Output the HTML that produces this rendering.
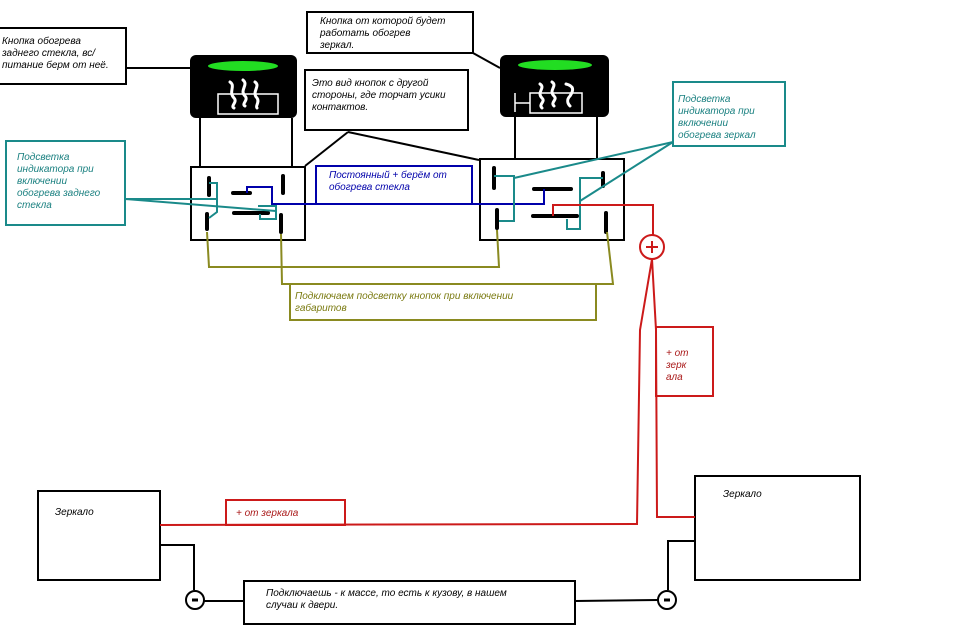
<!DOCTYPE html>
<html><head><meta charset="utf-8"><style>
html,body{margin:0;padding:0;background:#fff}
svg{display:block}
text{font-family:"Liberation Sans",sans-serif;font-style:italic;font-size:10px}
</style></head><body>
<svg width="960" height="638" viewBox="0 0 960 638" xmlns="http://www.w3.org/2000/svg">
<rect width="960" height="638" fill="#fff"/>
<g fill="none" stroke="#000" stroke-width="2">
<!-- callout 1 -->
<rect x="-2" y="28" width="128" height="56"/>
<line x1="126" y1="68" x2="190" y2="68"/>
<!-- callout 2 -->
<rect x="307" y="12" width="166" height="41"/>
<line x1="473" y1="53" x2="500" y2="68"/>
<!-- callout 3 -->
<rect x="305" y="70" width="163" height="60"/>
<line x1="348" y1="132" x2="305" y2="166"/>
<line x1="348" y1="132" x2="479" y2="160"/>
<!-- legs -->
<line x1="200" y1="118" x2="200" y2="166"/>
<line x1="292" y1="118" x2="292" y2="166"/>
<line x1="515" y1="117" x2="515" y2="159"/>
<line x1="597" y1="117" x2="597" y2="159"/>
<!-- switch boxes -->
<rect x="191" y="167" width="114" height="73"/>
<rect x="480" y="159" width="144" height="81"/>
<!-- mirrors -->
<rect x="38" y="491" width="122" height="89"/>
<rect x="695" y="476" width="165" height="104"/>
<rect x="244" y="581" width="331" height="43"/>
<!-- ground -->
<polyline points="160,545 194,545 194,590"/>
<line x1="204" y1="601" x2="244" y2="601"/>
<line x1="575" y1="601" x2="658" y2="600"/>
<polyline points="695,541 668,541 668,590"/>
<circle cx="195" cy="600" r="9"/>
<circle cx="667" cy="600" r="9"/>
</g>
<g stroke="#000" stroke-width="3">
<line x1="192" y1="600" x2="198" y2="600"/>
<line x1="664" y1="600" x2="670" y2="600"/>
</g>
<!-- buttons -->
<rect x="190" y="55" width="107" height="63" rx="6" fill="#000"/>
<ellipse cx="243" cy="66" rx="35" ry="5" fill="#22dd22"/>
<rect x="218" y="94" width="60" height="20" fill="none" stroke="#fff" stroke-width="1.5"/>
<g fill="none" stroke="#fff" stroke-width="3" stroke-linecap="round">
<path d="M230,82 c6,4 -2,10 4,16 c4,4 -4,8 0,10"/>
<path d="M243,80 c6,5 -4,10 2,16 c4,4 -4,8 0,10"/>
<path d="M255,82 c6,4 -4,10 2,16 c3,4 -2,8 0,10"/>
</g>
<rect x="500" y="55" width="109" height="62" rx="6" fill="#000"/>
<ellipse cx="555" cy="65" rx="37" ry="5" fill="#22dd22"/>
<rect x="530" y="93" width="52" height="20" fill="none" stroke="#fff" stroke-width="1.5"/>
<line x1="515" y1="103" x2="530" y2="103" stroke="#fff" stroke-width="1.5"/>
<line x1="515" y1="93" x2="515" y2="112" stroke="#fff" stroke-width="1.5"/>
<g fill="none" stroke="#fff" stroke-width="3" stroke-linecap="round">
<path d="M540,84 c6,4 -4,8 2,14 c4,4 -4,6 0,10"/>
<path d="M552,82 c6,4 -4,8 2,14 c4,4 -4,6 0,10"/>
<path d="M566,84 c8,2 8,6 4,12 c-4,4 -2,8 0,10"/>
</g>
<!-- contacts -->
<g stroke="#000" stroke-width="4" stroke-linecap="round">
<line x1="209" y1="178" x2="209" y2="195"/>
<line x1="207" y1="214" x2="207" y2="229"/>
<line x1="283" y1="176" x2="283" y2="193"/>
<line x1="281" y1="215" x2="281" y2="232"/>
<line x1="233" y1="193" x2="250" y2="193"/>
<line x1="234" y1="213" x2="268" y2="213"/>
<line x1="494" y1="168" x2="494" y2="188"/>
<line x1="497" y1="210" x2="497" y2="228"/>
<line x1="603" y1="173" x2="603" y2="186"/>
<line x1="606" y1="213" x2="606" y2="232"/>
<line x1="534" y1="189" x2="571" y2="189"/>
<line x1="533" y1="216" x2="577" y2="216"/>
</g>
<!-- blue -->
<g fill="none" stroke="#0000aa" stroke-width="2">
<polyline points="247,193 247,187 272,187 272,204 544,204 544,189"/>
<polyline points="316,204 316,166 472,166 472,204"/>
</g>
<!-- teal -->
<g fill="none" stroke="#1a8a8a" stroke-width="2">
<rect x="6" y="141" width="119" height="84"/>
<rect x="673" y="82" width="112" height="64"/>
<polyline points="209,183 217,183 217,212 209,218"/>
<polyline points="258,206 276,206 276,219 260,219 260,214"/>
<line x1="125" y1="199" x2="217" y2="199"/>
<line x1="125" y1="199" x2="276" y2="211"/>
<polyline points="494,176 514,176 514,221 499,221"/>
<line x1="514" y1="178" x2="673" y2="142"/>
<polyline points="603,178 580,178 580,229 567,229 567,219"/>
<line x1="580" y1="201" x2="673" y2="142"/>
</g>
<!-- olive -->
<g fill="none" stroke="#8a8a20" stroke-width="2">
<polyline points="207,232 209,267 499,267 497,230"/>
<polyline points="281,234 282,284 613,284 607,232"/>
<polyline points="290,284 290,320 596,320 596,284"/>
</g>
<!-- red -->
<g fill="none" stroke="#cc1a1a" stroke-width="2">
<polyline points="553,216 553,205 653,205 653,236"/>
<circle cx="652" cy="247" r="12"/>
<polyline points="652,259 640,330 637,524 160,525"/>
<polyline points="652,259 656,330 657,517 695,517"/>
<rect x="656" y="327" width="57" height="69"/>
<rect x="226" y="500" width="119" height="25"/>
</g>
<g stroke="#cc1a1a" stroke-width="2">
<line x1="646" y1="247" x2="658" y2="247"/>
<line x1="652" y1="241" x2="652" y2="253"/>
</g>
<!-- texts -->
<g fill="#000">
<text x="2" y="44">Кнопка обогрева</text>
<text x="2" y="56">заднего стекла, вс/</text>
<text x="2" y="68">питание берм от неё.</text>
<text x="320" y="24">Кнопка от которой будет</text>
<text x="320" y="36">работать обогрев</text>
<text x="320" y="48">зеркал.</text>
<text x="312" y="86">Это вид кнопок с  другой</text>
<text x="312" y="98">стороны, где торчат усики</text>
<text x="312" y="110">контактов.</text>
<text x="55" y="515" font-size="9">Зеркало</text>
<text x="723" y="497" font-size="9">Зеркало</text>
<text x="266" y="596" font-size="9">Подключаешь -  к массе, то есть к кузову, в нашем</text>
<text x="266" y="608" font-size="9">случаи к двери.</text>
</g>
<g fill="#0000aa">
<text x="329" y="178">Постоянный + берём  от</text>
<text x="329" y="190">обогрева стекла</text>
</g>
<g fill="#1a8080">
<text x="17" y="160">Подсветка</text>
<text x="17" y="172">индикатора при</text>
<text x="17" y="184">включении</text>
<text x="17" y="196">обогрева заднего</text>
<text x="17" y="208">стекла</text>
<text x="678" y="102">Подсветка</text>
<text x="678" y="114">индикатора при</text>
<text x="678" y="126">включении</text>
<text x="678" y="138">обогрева зеркал</text>
</g>
<g fill="#7a7a10">
<text x="295" y="299">Подключаем подсветку кнопок при включении</text>
<text x="295" y="311">габаритов</text>
</g>
<g fill="#aa1a1a" font-size="9">
<text x="666" y="356" font-size="9">+ от</text>
<text x="666" y="368" font-size="9">зерк</text>
<text x="666" y="380" font-size="9">ала</text>
<text x="236" y="516" font-size="9">+ от зеркала</text>
</g>
</svg>
</body></html>
